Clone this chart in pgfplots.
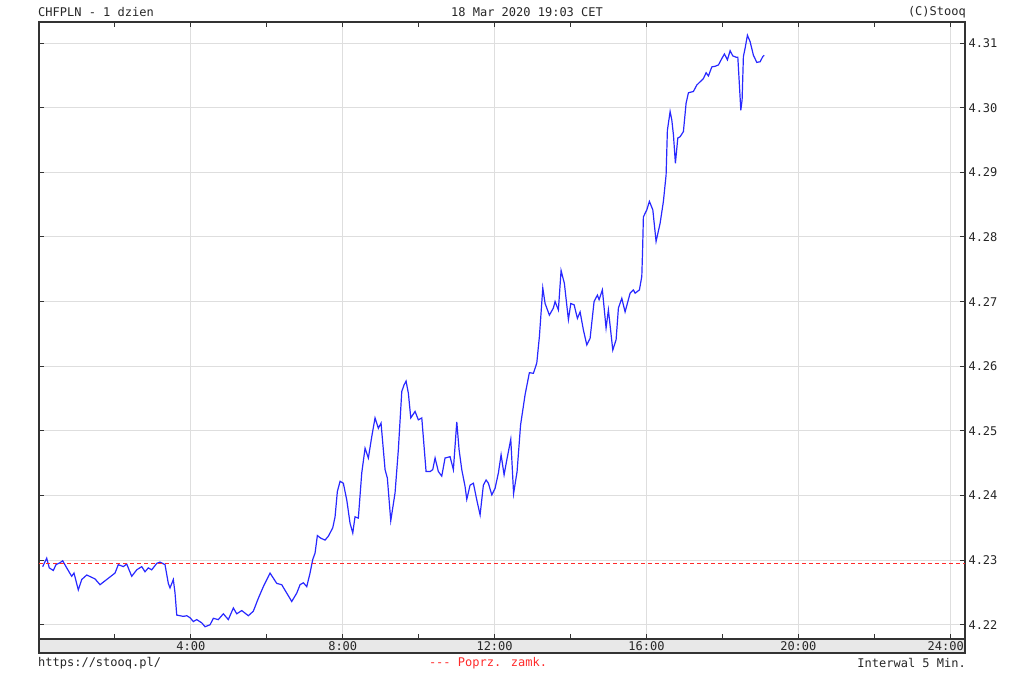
\documentclass[border=0pt]{standalone}
\usepackage{fontspec}
\setmainfont{DejaVu Sans Mono}
\usepackage{pgfplots}
\usepackage{pgfplotstable}
\pgfplotsset{compat=1.18}
\definecolor{framec}{HTML}{333333}
\definecolor{gridc}{HTML}{DEDEDE}
\definecolor{lineblue}{HTML}{2828FF}
\definecolor{closered}{HTML}{FF2A2A}
\definecolor{bandc}{HTML}{E8E8E8}
\pgfplotstableread{
h v
0.097 4.2290
0.203 4.2303
0.271 4.2288
0.377 4.2284
0.448 4.2293
0.553 4.2296
0.624 4.2299
0.730 4.2288
0.861 4.2275
0.922 4.2280
1.035 4.2254
1.125 4.2270
1.257 4.2277
1.475 4.2271
1.607 4.2262
1.783 4.2270
2.002 4.2280
2.089 4.2293
2.221 4.2290
2.310 4.2294
2.442 4.2275
2.574 4.2285
2.706 4.2290
2.792 4.2282
2.879 4.2288
2.969 4.2285
3.101 4.2295
3.188 4.2297
3.319 4.2293
3.406 4.2264
3.451 4.2257
3.538 4.2270
3.583 4.2249
3.628 4.2215
3.801 4.2213
3.891 4.2214
3.978 4.2211
4.065 4.2205
4.154 4.2208
4.286 4.2203
4.373 4.2197
4.505 4.2200
4.592 4.2210
4.723 4.2208
4.855 4.2217
4.987 4.2208
5.119 4.2226
5.208 4.2217
5.340 4.2222
5.514 4.2214
5.645 4.2221
5.777 4.2241
5.909 4.2259
6.085 4.2280
6.262 4.2264
6.393 4.2262
6.525 4.2249
6.657 4.2236
6.789 4.2249
6.876 4.2262
6.963 4.2265
7.052 4.2259
7.139 4.2280
7.210 4.2301
7.271 4.2311
7.332 4.2338
7.421 4.2334
7.534 4.2331
7.621 4.2337
7.737 4.2350
7.798 4.2367
7.858 4.2406
7.930 4.2422
8.016 4.2419
8.106 4.2393
8.193 4.2357
8.264 4.2342
8.324 4.2367
8.411 4.2365
8.501 4.2435
8.588 4.2473
8.675 4.2458
8.764 4.2491
8.851 4.2520
8.938 4.2504
9.009 4.2512
9.115 4.2440
9.175 4.2427
9.265 4.2361
9.378 4.2404
9.465 4.2471
9.555 4.2561
9.615 4.2571
9.668 4.2577
9.729 4.2558
9.792 4.2520
9.905 4.2530
9.992 4.2517
10.082 4.2520
10.195 4.2437
10.300 4.2437
10.371 4.2440
10.432 4.2458
10.519 4.2437
10.608 4.2430
10.695 4.2458
10.827 4.2460
10.914 4.2440
11.004 4.2514
11.064 4.2471
11.135 4.2440
11.222 4.2414
11.267 4.2394
11.354 4.2416
11.441 4.2419
11.531 4.2393
11.618 4.2370
11.704 4.2416
11.776 4.2424
11.836 4.2419
11.926 4.2401
12.012 4.2411
12.100 4.2435
12.171 4.2463
12.250 4.2432
12.321 4.2455
12.426 4.2487
12.500 4.2403
12.592 4.2437
12.684 4.2509
12.803 4.2556
12.916 4.2590
13.022 4.2589
13.111 4.2605
13.180 4.2646
13.217 4.2677
13.269 4.2721
13.330 4.2697
13.443 4.2679
13.548 4.2690
13.593 4.2700
13.680 4.2687
13.751 4.2748
13.838 4.2728
13.944 4.2672
14.007 4.2697
14.094 4.2695
14.181 4.2674
14.252 4.2684
14.339 4.2656
14.428 4.2633
14.515 4.2643
14.620 4.2700
14.707 4.2710
14.752 4.2703
14.839 4.2718
14.936 4.2659
14.997 4.2687
15.113 4.2625
15.200 4.2641
15.261 4.2690
15.350 4.2705
15.437 4.2684
15.569 4.2713
15.656 4.2718
15.701 4.2713
15.814 4.2718
15.877 4.2739
15.898 4.2780
15.919 4.2831
16.009 4.2842
16.077 4.2855
16.167 4.2842
16.253 4.2793
16.359 4.2821
16.446 4.2855
16.517 4.2896
16.551 4.2965
16.623 4.2994
16.667 4.2981
16.710 4.2958
16.762 4.2914
16.825 4.2953
16.886 4.2955
16.973 4.2963
17.044 4.3007
17.105 4.3023
17.236 4.3025
17.326 4.3035
17.413 4.3040
17.500 4.3045
17.571 4.3054
17.632 4.3049
17.721 4.3063
17.808 4.3064
17.895 4.3066
17.985 4.3076
18.053 4.3083
18.132 4.3074
18.203 4.3088
18.274 4.3080
18.361 4.3078
18.406 4.3078
18.440 4.3043
18.485 4.2996
18.519 4.3012
18.553 4.3079
18.598 4.3092
18.659 4.3112
18.730 4.3102
18.817 4.3081
18.906 4.3070
18.993 4.3071
19.064 4.3079
19.099 4.3081
}\pricedata
\pgfplotstableread{
h v
0 4.2295
24.39 4.2295
}\closedata
\pgfplotstableread{
h v
30 4.2295
31 4.2295
}\offdata
\begin{document}
\begin{tikzpicture}[x=1pt,y=1pt,font=\fontsize{12}{14}\selectfont]
\path (0,0) rectangle (1024,679);
\filldraw[fill=bandc, draw=framec, line width=1.5pt] (39,26) rectangle (965,40);
\begin{axis}[
  at={(39pt,40pt)}, anchor=south west,
  scale only axis, width=926pt, height=617pt,
  xmin=0, xmax=24.39, ymin=4.2178, ymax=4.31325,
  axis line style={draw=framec, line width=1.5pt},
  xtick={4,8,12,16,20,24},
  xticklabels={4:00,8:00,12:00,16:00,20:00,{\hspace*{-9pt}24:00}},
  minor xtick={2,6,10,14,18,22},
  ytick={4.22,4.23,4.24,4.25,4.26,4.27,4.28,4.29,4.30,4.31},
  yticklabel pos=right,
  yticklabel style={/pgf/number format/.cd, fixed, fixed zerofill, precision=2, assume math mode=true},
  xticklabel style={anchor=center, yshift=-7pt},
  every tick label/.append style={font=\fontsize{12}{14}\selectfont, text=black!85},
  grid=major, major grid style={draw=gridc, line width=0.9pt},
  tick align=inside,
  major tick length=5pt, minor tick length=5pt,
  every tick/.style={draw=framec, line width=0.9pt},
  clip=true,
]
\addplot[draw=lineblue, line width=1.2pt] table[x=h, y=v] {\pricedata};
\addplot[closered, line width=1.3pt, densely dashed, forget plot] table[x=h, y=v] {\offdata};
\addplot[closered, line width=1.3pt, solid, forget plot] table[x=h, y=v] {\offdata};
\addplot[draw=closered, line width=1.3pt, dash pattern=on 4pt off 3pt] table[x=h, y=v] {\closedata};
\end{axis}
\node[anchor=west, inner sep=0pt, text=black!85] at (38,667) {CHFPLN - 1 dzien};
\node[inner sep=0pt, text=black!85] at (527,667) {18 Mar 2020 19:03 CET};
\node[anchor=east, inner sep=0pt, text=black!85] at (966,667) {(C)Stooq};
\node[anchor=west, inner sep=0pt, text=black!85] at (38,16) {https://stooq.pl/};
\node[inner sep=0pt, text=closered] at (488,16) {-{}-{}- Poprz. zamk.};
\node[anchor=east, inner sep=0pt, text=black!85] at (966,16) {Interwal 5 Min.};
\end{tikzpicture}
\end{document}
